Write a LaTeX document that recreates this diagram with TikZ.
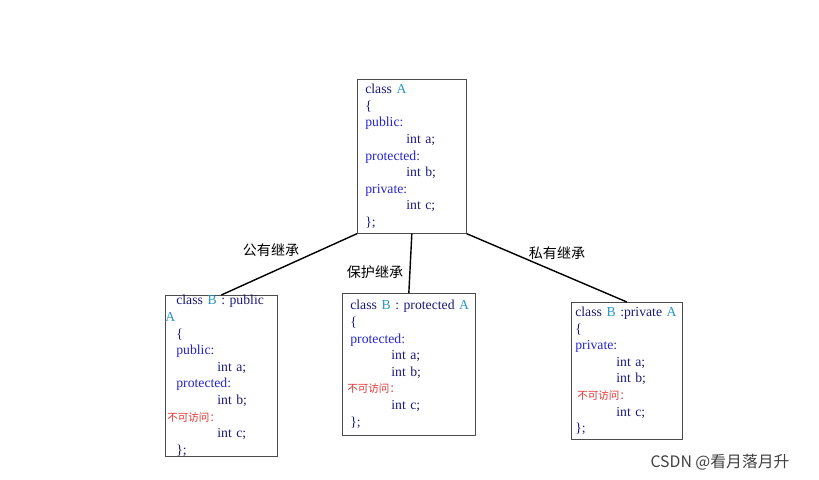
\documentclass[tikz,border=0pt]{standalone}
\usepackage{fontspec}
\setmainfont{Liberation Serif}
\newfontfamily\cjk{Noto Sans CJK SC}
\usetikzlibrary{positioning}
\definecolor{kwnavy}{RGB}{25,25,120}
\definecolor{kwblue}{RGB}{35,35,210}
\definecolor{clsteal}{RGB}{40,150,205}
\definecolor{redtxt}{RGB}{230,50,50}
\newcommand{\kw}[1]{\textcolor{kwblue}{#1}}
\newcommand{\cn}[1]{\textcolor{clsteal}{#1}}
\newcommand{\ind}{\hspace*{0.82cm}}
\newcommand{\noacc}{{\cjk\fontsize{6}{9.4}\selectfont\textcolor{redtxt}{不可访问：}}}
\begin{document}
\begin{tikzpicture}[x=0.02cm,y=-0.02cm,
  font=\fontsize{7.8}{9.45}\selectfont,
  box/.style={draw=black!70, anchor=north west, align=left, inner sep=0pt, text=kwnavy},
  arrow/.style={thick},
  lbl/.style={font=\cjk\fontsize{8}{9}\selectfont}
]
\useasboundingbox (0,0) rectangle (819,480);

% --- base class ---------------------------------------------------------------
\node[box, minimum height=3.08cm, text width=2.18cm] (A) at (357,79)
{\hspace*{0.16cm}class \cn{A}\\\hspace*{0.16cm}\{\\\hspace*{0.16cm}\kw{public:}\\\hspace*{0.16cm}\ind int a;\\
 \hspace*{0.16cm}\kw{protected:}\\\hspace*{0.16cm}\ind int b;\\\hspace*{0.16cm}\kw{private:}\\\hspace*{0.16cm}\ind int c;\\\hspace*{0.16cm}\};};

% --- derived classes ----------------------------------------------------------
\node[box, minimum height=3.16cm, text width=2.24cm] (pub) at (165,295)
{\hspace*{0.22cm}class \cn{B} : public \cn{A}\\\hspace*{0.22cm}\{\\\hspace*{0.22cm}\kw{public:}\\\hspace*{0.22cm}\ind int a;\\
 \hspace*{0.22cm}\kw{protected:}\\\hspace*{0.22cm}\ind int b;\\\hspace*{0.04cm}\noacc\\\hspace*{0.22cm}\ind int c;\\\hspace*{0.22cm}\};};

\node[box, minimum height=2.84cm, text width=2.66cm] (pro) at (342,293)
{\hspace*{0.16cm}class \cn{B} : protected \cn{A}\\\hspace*{0.16cm}\{\\\hspace*{0.16cm}\kw{protected:}\\\hspace*{0.16cm}\ind int a;\\
 \hspace*{0.16cm}\ind int b;\\\hspace*{0.1cm}\noacc\\\hspace*{0.16cm}\ind int c;\\\hspace*{0.16cm}\};};

\node[box, minimum height=2.74cm, text width=2.22cm] (pri) at (571,302)
{\hspace*{0.08cm}class \cn{B} :private \cn{A}\\\hspace*{0.08cm}\{\\\hspace*{0.08cm}\kw{private:}\\\hspace*{0.08cm}\ind int a;\\
 \hspace*{0.08cm}\ind int b;\\\hspace*{0.12cm}\noacc\\\hspace*{0.08cm}\ind int c;\\\hspace*{0.08cm}\};};

% --- inheritance links --------------------------------------------------------
\draw[arrow] (A.south west) -- (pub.north);
\draw[arrow] (A.south) -- (pro.north);
\draw[arrow] (A.south east) -- (pri.north);

\node[lbl] (lpub) at (271,250) {公有继承};
\node[lbl] (lpro) at (375,272) {保护继承};
\node[lbl] (lpri) at (557,253) {私有继承};

\node[font=\cjk\fontsize{9}{10}\selectfont, text=black!75] (mark) at (720,462) {CSDN @看月落月升};
\end{tikzpicture}
\end{document}
